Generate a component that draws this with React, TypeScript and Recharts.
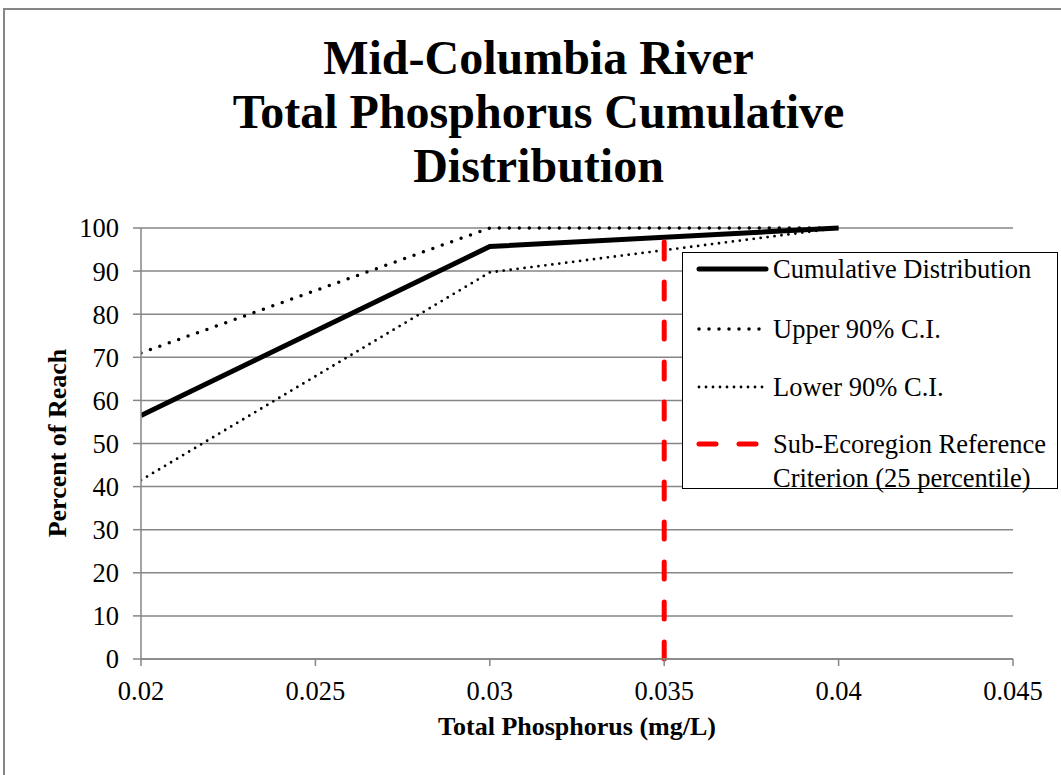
import React from 'react';
import { LineChart, Line, XAxis, YAxis, CartesianGrid } from 'recharts';

const phosphorus = [0.02, 0.03, 0.04];
const cumulative = [56.5, 95.7, 100];
const upperCI = [71, 100, 100];
const lowerCI = [41.5, 89.7, 100];
const criterionX = 0.035;
const criterionY = [0, 98];

const xTicks = [0.02, 0.025, 0.03, 0.035, 0.04, 0.045];
const yTicks = [0, 10, 20, 30, 40, 50, 60, 70, 80, 90, 100];

const toPoints = (vals: number[]) => phosphorus.map((x, i) => ({ x, y: vals[i] }));

const cumData = toPoints(cumulative);
const upperData = toPoints(upperCI);
const lowerData = toPoints(lowerCI);
const criterionData = criterionY.map(y => ({ x: criterionX, y }));

const serif = '"Liberation Serif", "Times New Roman", serif';
const gray = '#868686';

const legendItems = [
  { label: ['Cumulative Distribution'], y: 269, stroke: '#000', width: 5, dash: undefined as string | undefined },
  { label: ['Upper 90% C.I.'], y: 329, stroke: '#000', width: 3.5, dash: '0 10' },
  { label: ['Lower 90% C.I.'], y: 387, stroke: '#000', width: 2.8, dash: '0 7' },
  { label: ['Sub-Ecoregion Reference', 'Criterion (25 percentile)'], y: 444, stroke: '#ff0000', width: 5, dash: '17 23' },
];

export default function App() {
  return (
    <div style={{ position: 'absolute', top: 0, left: 0, width: 1061, height: 775, overflow: 'hidden', background: '#fff', fontFamily: serif }}>
      <div style={{ position: 'absolute', left: 3, top: 8, width: 1100, height: 800, border: `2px solid ${gray}` }} />

      <div style={{ position: 'absolute', left: 0, top: 31, width: 1077, textAlign: 'center', fontWeight: 'bold', fontSize: 48, lineHeight: '54px', color: '#000' }}>
        Mid-Columbia River<br />Total Phosphorus Cumulative<br />Distribution
      </div>

      <div style={{ position: 'absolute', left: 0, top: 0 }}>
        <LineChart width={1061} height={775} margin={{ top: 228, right: 48, bottom: 86, left: 81 }}>
          <CartesianGrid vertical={false} stroke={gray} strokeWidth={1.5} />
          <XAxis
            type="number"
            dataKey="x"
            domain={[0.02, 0.045]}
            ticks={xTicks}
            allowDataOverflow
            height={30}
            stroke={gray}
            strokeWidth={1.5}
            tickSize={7}
            tickMargin={15}
            tick={{ fill: '#000', fontSize: 26.5, fontFamily: serif }}
          />
          <YAxis
            type="number"
            dataKey="y"
            domain={[0, 100]}
            ticks={yTicks}
            width={60}
            stroke={gray}
            strokeWidth={1.5}
            tickSize={8}
            tickMargin={14}
            tick={{ fill: '#000', fontSize: 26.5, fontFamily: serif }}
          />
          <Line data={upperData} dataKey="y" stroke="#000" strokeWidth={3.5} strokeDasharray="0 10" strokeLinecap="round" dot={false} isAnimationActive={false} />
          <Line data={lowerData} dataKey="y" stroke="#000" strokeWidth={2.8} strokeDasharray="0 7" strokeLinecap="round" dot={false} isAnimationActive={false} />
          <Line data={cumData} dataKey="y" stroke="#000" strokeWidth={5} dot={false} isAnimationActive={false} />
          <Line data={criterionData} dataKey="y" stroke="#ff0000" strokeWidth={5} strokeDasharray="17 23" strokeLinecap="round" dot={false} isAnimationActive={false} />
        </LineChart>
      </div>

      <div style={{ position: 'absolute', left: 577, top: 712, transform: 'translateX(-50%)', whiteSpace: 'nowrap', fontWeight: 'bold', fontSize: 26, color: '#000' }}>
        Total Phosphorus (mg/L)
      </div>
      <div style={{ position: 'absolute', left: 58, top: 443, transform: 'translate(-50%, -50%) rotate(-90deg)', whiteSpace: 'nowrap', fontWeight: 'bold', fontSize: 26, color: '#000' }}>
        Percent of Reach
      </div>

      <div style={{ position: 'absolute', left: 682, top: 252, width: 376, height: 237, boxSizing: 'border-box', border: '1.5px solid #000', background: '#fff' }} />
      <svg style={{ position: 'absolute', left: 0, top: 0 }} width={1061} height={775}>
        {legendItems.map(item => (
          <g key={item.label[0]}>
            <line x1={699} x2={766} y1={item.y} y2={item.y} stroke={item.stroke} strokeWidth={item.width} strokeDasharray={item.dash} strokeLinecap="round" />
            {item.label.map((t, i) => (
              <text key={t} x={773} y={item.y + i * 34} dy="0.33em" fontSize={26.5} fontFamily={serif} fill="#000">{t}</text>
            ))}
          </g>
        ))}
      </svg>
    </div>
  );
}
